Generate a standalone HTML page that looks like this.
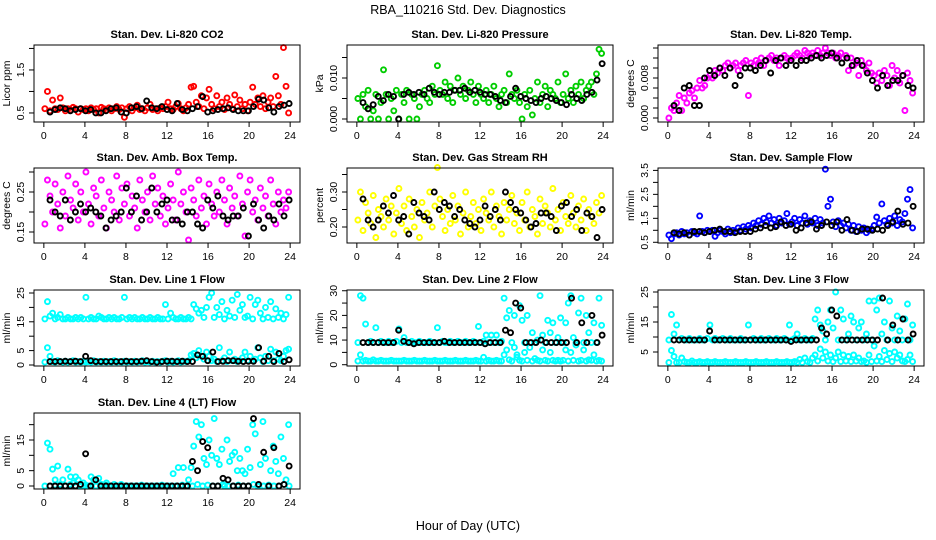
<!DOCTYPE html>
<html><head><meta charset="utf-8"><style>
html,body{margin:0;padding:0;background:#fff;}
svg{display:block;font-family:"Liberation Sans",sans-serif;}
</style></head><body>
<svg id="chart" width="936" height="540" xmlns="http://www.w3.org/2000/svg">
<text x="468" y="14" text-anchor="middle" font-size="12.5">RBA_110216  Std. Dev. Diagnostics</text>
<text x="468" y="530" text-anchor="middle" font-size="12.5">Hour of Day (UTC)</text>
</svg>
<script>
const xTicks=[0,4,8,12,16,20,24];
const xTickLabels=['0','4','8','12','16','20','24'];
const co2Red=[0.6,1.0,0.55,0.8,0.6,0.58,0.85,0.62,0.55,0.6,0.57,0.63,0.6,0.52,0.6,0.58,0.6,0.55,0.62,0.58,0.6,0.5,0.63,0.6,0.57,0.62,0.55,0.6,0.65,0.58,0.62,0.4,0.6,0.65,0.55,0.62,0.68,0.58,0.6,0.55,0.62,0.7,0.58,0.6,0.55,0.62,0.6,0.65,0.75,0.6,0.58,0.65,0.72,0.6,0.55,0.62,0.7,1.1,1.12,0.75,0.65,0.9,0.6,0.85,1.05,0.7,0.6,0.9,0.65,0.75,0.58,0.85,0.7,0.6,0.92,0.65,0.8,0.6,0.7,0.55,0.75,1.1,0.7,0.85,0.65,0.9,0.6,0.75,0.85,0.65,1.35,0.9,0.7,2.02,1.12,0.5];
const co2Black=[0.52,0.58,0.62,0.6,0.55,0.58,0.6,0.55,0.58,0.5,0.5,0.55,0.6,0.62,0.52,0.5,0.62,0.65,0.6,0.78,0.62,0.6,0.65,0.58,0.55,0.72,0.58,0.55,0.6,0.65,0.88,0.52,0.55,0.58,0.6,0.62,0.58,0.55,0.55,0.55,0.65,0.82,0.8,0.62,0.52,0.65,0.68,0.72];
const presGreen=[0.005,0,0.006,0.003,0.007,0,0.002,0.006,0,0.004,0.012,0.006,0,0.005,0.002,0.007,0,0.006,0.004,0.007,0,0.006,0.005,0,0.003,0.006,0.007,0.005,0.004,0.008,0.006,0.013,0.007,0.006,0.009,0.005,0.008,0.004,0.007,0.01,0.006,0.008,0.005,0.007,0.009,0.006,0.004,0.008,0.006,0.005,0.007,0.004,0.006,0.008,0.005,0.003,0.006,0.007,0.004,0.011,0.006,0.005,0.007,0.004,0,0.006,0.003,0.007,0.001,0.005,0.009,0.004,0.006,0.008,0.003,0.007,0.006,0.005,0.009,0.004,0.006,0.011,0.005,0.007,0.004,0.008,0.006,0.009,0.005,0.007,0.008,0.009,0.006,0.011,0.017,0.016];
const presBlack=[0.004,0.0025,0.0035,0.0055,0.0045,0.006,0.0055,0,0.006,0.0065,0.006,0.0065,0.006,0.0075,0.0065,0.006,0.0065,0.0065,0.007,0.007,0.0075,0.0065,0.007,0.0065,0.006,0.006,0.0055,0.0045,0.004,0.0055,0.0075,0.0055,0.005,0.0045,0.004,0.005,0.0055,0.005,0.0045,0.004,0.0035,0.006,0.005,0.0045,0.006,0.0065,0.0095,0.0135];
const tempMag=[0,0.002,0.0015,0.003,0.0045,0.0015,0.004,0.003,0.005,0.0055,0.004,0.006,0.0075,0.006,0.0065,0.008,0.0085,0.008,0.0095,0.009,0.01,0.0095,0.0105,0.011,0.01,0.0105,0.011,0.0095,0.0105,0.011,0.0115,0.0045,0.011,0.0105,0.0115,0.011,0.012,0.0105,0.0115,0.012,0.0125,0.0115,0.012,0.0105,0.012,0.0125,0.012,0.0115,0.012,0.0125,0.013,0.0125,0.012,0.0135,0.013,0.0125,0.013,0.0125,0.0135,0.0125,0.013,0.014,0.013,0.0125,0.013,0.012,0.0125,0.013,0.012,0.0125,0.0095,0.012,0.0105,0.011,0.0085,0.0115,0.0105,0.0095,0.011,0.009,0.0085,0.007,0.009,0.0075,0.0095,0.0085,0.0065,0.0105,0.008,0.0095,0.007,0.0085,0.0015,0.009,0.0075,0.005];
const tempBlack=[0.0025,0.0015,0.006,0.0065,0.0025,0.0025,0.008,0.0095,0.0085,0.01,0.0085,0.01,0.0065,0.0085,0.01,0.01,0.0095,0.0105,0.0115,0.009,0.0115,0.012,0.0105,0.0115,0.0105,0.0115,0.0115,0.012,0.0125,0.012,0.0125,0.013,0.012,0.011,0.012,0.0105,0.0115,0.0105,0.009,0.0075,0.006,0.0085,0.0065,0.0075,0.0075,0.0085,0.0065,0.006];
const ambMag=[0.17,0.28,0.24,0.2,0.27,0.22,0.16,0.25,0.19,0.29,0.23,0.21,0.27,0.18,0.25,0.2,0.3,0.22,0.17,0.26,0.24,0.19,0.28,0.21,0.16,0.25,0.23,0.2,0.29,0.18,0.26,0.22,0.27,0.19,0.24,0.21,0.16,0.28,0.23,0.2,0.25,0.18,0.29,0.22,0.26,0.19,0.24,0.17,0.21,0.27,0.23,0.18,0.3,0.22,0.25,0.2,0.13,0.26,0.23,0.19,0.28,0.21,0.24,0.17,0.27,0.22,0.19,0.25,0.2,0.28,0.23,0.17,0.26,0.21,0.24,0.19,0.29,0.22,0.14,0.25,0.28,0.2,0.23,0.18,0.26,0.21,0.24,0.19,0.28,0.22,0.17,0.25,0.2,0.23,0.21,0.25];
const ambBlack=[0.23,0.2,0.19,0.23,0.18,0.2,0.22,0.2,0.21,0.2,0.19,0.16,0.18,0.19,0.2,0.26,0.2,0.24,0.18,0.2,0.26,0.2,0.22,0.23,0.18,0.18,0.17,0.2,0.2,0.17,0.16,0.23,0.21,0.24,0.19,0.18,0.19,0.19,0.21,0.14,0.22,0.18,0.16,0.19,0.18,0.22,0.19,0.23];
const rhYellow=[0.22,0.3,0.19,0.27,0.24,0.21,0.29,0.17,0.25,0.23,0.2,0.28,0.22,0.26,0.18,0.24,0.31,0.21,0.26,0.19,0.28,0.23,0.2,0.25,0.17,0.27,0.22,0.24,0.3,0.2,0.26,0.37,0.28,0.23,0.19,0.25,0.21,0.29,0.22,0.26,0.18,0.24,0.3,0.2,0.23,0.27,0.21,0.25,0.19,0.28,0.24,0.22,0.3,0.2,0.26,0.23,0.18,0.27,0.22,0.25,0.29,0.21,0.24,0.19,0.27,0.22,0.3,0.2,0.25,0.23,0.18,0.28,0.21,0.26,0.24,0.2,0.31,0.22,0.25,0.19,0.27,0.23,0.21,0.29,0.24,0.2,0.26,0.22,0.28,0.19,0.25,0.23,0.21,0.27,0.24,0.29];
const rhBlack=[0.28,0.22,0.2,0.22,0.26,0.24,0.29,0.22,0.23,0.18,0.27,0.24,0.23,0.22,0.3,0.25,0.27,0.26,0.23,0.25,0.22,0.21,0.2,0.22,0.26,0.23,0.25,0.22,0.3,0.27,0.25,0.24,0.22,0.2,0.21,0.24,0.24,0.23,0.19,0.26,0.27,0.23,0.25,0.19,0.24,0.23,0.17,0.25];
const flowBlue=[0.8,0.65,0.85,0.9,0.8,0.95,0.85,0.9,0.8,0.95,0.9,0.85,1.6,0.95,0.9,1.0,0.95,1.0,0.75,0.9,1.0,0.95,0.85,1.05,0.9,1.0,0.95,1.1,1.0,1.15,1.05,1.2,1.1,1.3,1.2,1.4,1.25,1.5,1.35,1.6,1.3,1.45,1.2,1.5,1.3,1.4,1.7,1.25,1.35,1.5,1.2,1.45,1.3,1.6,1.25,1.4,1.3,1.5,1.2,1.45,1.3,3.55,2.0,2.3,1.35,1.15,1.4,1.2,1.3,1.1,1.25,1.0,1.2,0.95,1.15,1.0,1.1,0.9,1.0,1.05,1.2,1.55,1.3,2.1,1.4,1.25,1.5,1.3,1.6,1.2,1.45,1.35,1.7,2.3,2.7,1.1];
const flowBlack=[0.9,0.85,0.9,0.8,0.95,0.95,0.9,0.95,1.0,1.05,0.95,0.95,0.9,0.95,0.95,0.95,1.05,1.1,1.2,1.1,1.15,1.35,1.2,1.25,1.0,1.1,1.3,1.35,1.05,1.2,1.35,1.2,1.35,1.0,1.45,1.0,0.95,1.05,1.05,1.0,1.05,1.0,1.2,1.35,1.8,1.25,1.3,2.0];
const line1High=[16,22,17,18,16,16.5,17.5,16,16,16.5,16,16,16.5,16,16.5,16,23.5,16,16.5,16,16,17,16.5,16,16,16.5,16,16.5,16,16,16.5,23.5,16,16.5,16,16.5,16,16,16.5,16,16,16.5,16,16,16.5,16,16,21,16,18,16.5,16,16,16.5,16,16,16.5,16,21,19.5,18,19,16.5,20,23.5,25,16.5,20,17.5,22,16,19,17,22.5,16.5,24.5,19,21,16.5,17,23.5,16,21,22.5,18,16,20,16.5,22,16,19.5,16.5,18,16,17.5,23.5];
const line1Low=[1,6,3,1.2,1,1.5,1.2,1,1.3,1,1.2,1.5,1,1.2,1,1.3,1,1.2,1,1.5,1,1.2,1,1.3,1,1.2,1,1.5,1,1.2,1,1.3,1,1.2,1,1.3,1,1.2,1.5,1,1.2,1,1.3,1,1.2,1,1.3,1.5,1,1.3,1,1.2,1.5,1,1.3,1.2,1.5,3.5,4,2.5,5,3,2,4.5,3,1.5,2,1.2,6,1.5,2.5,1.2,4.5,1.5,2,1.2,1.5,2.5,4.5,1.5,3,1.5,2,6,2.5,1.2,3,1.5,5.5,1.5,4.5,2,1.5,3,5,5.5];
const line1Black=[1.2,1.2,1.2,1.3,1.2,1.3,1.2,3,1.5,1.2,1.2,1.2,1.2,1.2,1.2,1.3,1.2,1.2,1.3,1.5,1.2,1,1.2,1.3,1.3,1.2,1.3,1.2,1.2,3.5,3,1.5,4.5,1.2,1.3,1.5,1.5,1.3,1.2,1.3,1.3,6,1.3,3,1.2,4,1.2,1.8];
const line2High=[9,28,27,16.5,9,9.5,9,15,9,9.5,9,9,9.5,9,9,9.5,14.5,9,11,9,9,9.5,9,9,9.5,9,9,9,9.5,9,9,15,9,9.5,9,9,9.5,9,9,9.5,9,9,9.5,9,9,9.5,9,15.5,9,9.5,12,9,12,9,12,9,9.5,27,19,22,9,20,4,24,18,9,20,9,13,9,10,28,12,9,18,13,17,9,11,19,9,17,25,28,11,9,21,27,9,20,13,9,17,9,27,16];
const line2Low=[1.5,4,1.5,1.8,1.5,1.5,2,1.5,1.5,1.8,1.5,1.5,1.5,1.8,1.5,1.5,1.5,1.5,1.8,1.5,1.5,1.5,1.8,1.5,1.5,1.5,1.8,1.5,1.5,1.5,1.8,1.5,1.5,1.5,1.8,1.5,1.5,1.5,1.8,1.5,1.5,1.5,1.8,1.5,1.5,1.5,1.8,1.5,1.5,3,1.5,1.8,1.5,1.5,1.8,1.5,1.5,4,6,2,1.5,7,3,1.8,1.5,5,1.8,7,1.5,2.5,1.8,1.5,6,1.8,1.5,5,1.8,1.5,1.8,1.5,1.8,6,1.5,5,1.8,8,1.5,1.8,6,1.5,2,1.8,4,1.5,1.8,1.5];
const line2Black=[9,9,9,9,9,9,9,14,9.5,9,8.5,9,9,9,9,9,9.5,9,9,9,9,9,9,9,8.5,9,9,9,14,13,25,23,9,9,9,10,9,9,9,9,9,27,9,17,9,20,9,12];
const line3High=[9,17.5,11,14,9,9.5,9,9,9.5,9,9,9,9.5,9,9,9.5,14,9,9.5,9,9,9.5,9,9,9.5,9,9,9,9.5,9,9,14,9,9.5,9,9,9.5,9,9,9.5,9,9,9.5,9,9,9.5,9,14,9,9.5,11,9,9,9.5,9,9,9.5,16,19,14,12,9,15,19,13,25,9,19,16,9,11,17,15,9,13,15,9,11,22,9,22,19,23,11,15,9,22,13,9,17,12,9,16,21,9,14];
const line3Low=[1.5,5.5,3.5,1.5,1.5,3,1.8,1.5,1.5,2,1.5,1.5,1.8,1.5,1.5,1.8,1.5,1.5,1.8,1.5,1.5,1.5,1.8,1.5,1.5,1.5,1.8,1.5,1.5,1.5,1.8,1.5,1.5,1.5,1.8,1.5,1.5,1.5,1.8,1.5,1.5,1.5,1.8,1.5,1.5,1.5,1.8,1.5,1.5,1.8,1.5,2.5,1.5,3,1.8,1.5,3,4,2,6,3,5,2,4,1.8,3,5,1.8,4,2,3.5,1.8,4,2,3,1.8,2,1.5,4,1.8,7,2,3.5,1.8,5.5,2.5,4.5,1.8,5,3,4,2,1.8,2.5,4,1.8];
const line3Black=[9,9,9,9,9,9,9,12,9,9,9,9,9,9,9,9,9,9,9,9,9,9,9,8.5,9,9,9,9,9,13,11,19,17,9,9,9,9,9,9,9,9,23,9,14,9,16,9,11];
const line4Main=[0,14,12,5.5,2,6.5,0.5,2,0,5.5,3,1,3,2,0,1,0,0,3,2,0,2.5,0.5,0,1,0,0,0.5,0,0,0,0,0,0,0,0,0,0,0,0,0,0,0,0,0,0,0,0,0,0,4,0,6,0,6,0,2,6,13,21,16,20,9,7,15,10,22,9,7,12,0,15,8,10,11,5,9,5,4,12,6,20,17,0,7,21,9,0,5,13,8,4,16,9,2,20];
const line4Base=[0,0.3,0,0,0.5,0,0,0.3,0,0,0,0.3,0,0,0.5,0,0,0,0.3,0,0,0,0.3,0,0,0,0.3,0,0,0.5,0,0.3,0,0,0.5,0,0,0.3,0,0,0.5,0,0,0.3,0,0,0.5,0];
const line4Black=[0,0,0,0,0,0,0.5,10.5,0,2,0,0,0,0,0,0,0,0,0,0,0,0,0,0,0,0,0,0,8,5,14.5,12.5,0,0,2.5,2,0,0,0,0,22,0.5,11,0,12.5,0,0.5,6.5];

const NS='http://www.w3.org/2000/svg';
const svg=document.getElementById('chart');
function mk(tag,attrs,parent){const e=document.createElementNS(NS,tag);for(const k in attrs)e.setAttribute(k,attrs[k]);(parent||svg).appendChild(e);return e;}
const colX=[34,347,658], rowY=[[45,122],[168,243],[290,366],[413,489]], W=266;
const xDom=[-0.96,24.96];
function tColor(i,n){return 0.1+i*(23.75/(n-1));}
function tBlack(i,n){return 0.6+i*(23.3/(n-1));}

const panels=[
 {key:'co2',title:'Stan. Dev. Li-820 CO2',yl:'Licor ppm',c:0,r:0,dom:[0.29,2.08],ticks:[0.5,1,1.5,2],labs:['0.5','','1.5',''],series:[[co2Red,'#ff0000',tColor]],black:co2Black},
 {key:'pressure',title:'Stan. Dev. Li-820 Pressure',yl:'kPa',c:1,r:0,dom:[-0.00073,0.01805],ticks:[0,0.005,0.01,0.015],labs:['0.000','','0.010',''],series:[[presGreen,'#00cd00',tColor]],black:presBlack},
 {key:'temp',title:'Stan. Dev. Li-820 Temp.',yl:'degrees C',c:2,r:0,dom:[-0.0008,0.0146],ticks:[0,0.002,0.004,0.006,0.008,0.010,0.012,0.014],labs:['0.000','','','','0.008','','',''],series:[[tempMag,'#ff00ff',tColor]],black:tempBlack},
 {key:'ambbox',title:'Stan. Dev. Amb. Box Temp.',yl:'degrees C',c:0,r:1,dom:[0.1225,0.31],ticks:[0.15,0.2,0.25,0.3],labs:['0.15','','0.25',''],series:[[ambMag,'#ff00ff',tColor]],black:ambBlack},
 {key:'rh',title:'Stan. Dev. Gas Stream RH',yl:'percent',c:1,r:1,dom:[0.1543,0.3686],ticks:[0.2,0.25,0.3,0.35],labs:['0.20','','0.30',''],series:[[rhYellow,'#ffff00',tColor]],black:rhBlack},
 {key:'sampleflow',title:'Stan. Dev. Sample Flow',yl:'ml/min',c:2,r:1,dom:[0.47,3.6],ticks:[0.5,1,1.5,2,2.5,3,3.5],labs:['0.5','','1.5','','2.5','','3.5'],series:[[flowBlue,'#0000ff',tColor]],black:flowBlack},
 {key:'line1',title:'Stan. Dev. Line 1 Flow',yl:'ml/min',c:0,r:2,dom:[-0.35,26.04],ticks:[0,5,10,15,20,25],labs:['0','5','','15','','25'],series:[[line1High,'#00ffff',tColor],[line1Low,'#00ffff',tColor]],black:line1Black},
 {key:'line2',title:'Stan. Dev. Line 2 Flow',yl:'ml/min',c:1,r:2,dom:[-0.52,30.3],ticks:[0,5,10,15,20,25,30],labs:['0','','10','','20','','30'],series:[[line2High,'#00ffff',tColor],[line2Low,'#00ffff',tColor]],black:line2Black},
 {key:'line3',title:'Stan. Dev. Line 3 Flow',yl:'ml/min',c:2,r:2,dom:[0.33,25.67],ticks:[5,10,15,20,25],labs:['5','','15','','25'],series:[[line3High,'#00ffff',tColor],[line3Low,'#00ffff',tColor]],black:line3Black},
 {key:'line4',title:'Stan. Dev. Line 4 (LT) Flow',yl:'ml/min',c:0,r:3,dom:[-0.98,23.8],ticks:[0,5,10,15,20],labs:['0','5','','15',''],series:[[line4Main,'#00ffff',tColor],[line4Base,'#00ffff',tBlack]],black:line4Black}
];

panels.forEach(p=>{
  const x0=colX[p.c], y0=rowY[p.r][0], y1=rowY[p.r][1];
  const xs=v=>x0+(v-xDom[0])/(xDom[1]-xDom[0])*W;
  const ys=v=>y1-(v-p.dom[0])/(p.dom[1]-p.dom[0])*(y1-y0);
  const g=mk('g',{});
  
  
  const t=mk('text',{x:x0+W/2,y:y0-7,'text-anchor':'middle','font-size':'11','font-weight':'bold'},g);
  t.textContent=p.title;
  
  
  const yl=mk('text',{x:0,y:0,'text-anchor':'middle','font-size':'10.5',transform:`translate(${x0-24},${(y0+y1)/2}) rotate(-90)`},g);
  yl.textContent=p.yl;
  
  
  const xa=mk('g',{},g);
  
  
  mk('line',{x1:xs(xTicks[0]),x2:xs(xTicks[xTicks.length-1]),y1:y1,y2:y1,stroke:'#000'},xa);
  xTicks.forEach((v,i)=>{
    mk('line',{x1:xs(v),x2:xs(v),y1:y1,y2:y1+5,stroke:'#000'},xa);
    const l=mk('text',{x:xs(v),y:y1+17,'text-anchor':'middle','font-size':'10.5'},xa);
    l.textContent=xTickLabels[i];
    
    
  });
  const ya=mk('g',{},g);
  
  
  p.ticks.forEach((v,i)=>{
    mk('line',{x1:x0-5,x2:x0,y1:ys(v),y2:ys(v),stroke:'#000'},ya);
    if(p.labs[i]){
      const l=mk('text',{x:0,y:0,'text-anchor':'middle','font-size':'10.5',transform:`translate(${x0-10},${ys(v)}) rotate(-90)`},ya);
      l.textContent=p.labs[i];
      
      
    }
  });
  const pts=mk('g',{fill:'none','stroke-width':'1.9'},g);
  
  
  p.series.forEach(s=>{
    const arr=s[0], col=s[1], tf=s[2];
    arr.forEach((v,i)=>{
      const c=mk('circle',{cx:xs(tf(i,arr.length)),cy:ys(v),r:2.5,stroke:col},pts);
      
      
    });
  });
  p.black.forEach((v,i)=>{
    const c=mk('circle',{cx:xs(tBlack(i,p.black.length)),cy:ys(v),r:2.5,stroke:'#000'},pts);
    
    
  });
  const box=mk('rect',{x:x0,y:y0,width:W,height:y1-y0,fill:'none',stroke:'#000'},g);
  
  
});
</script>
</body></html>
